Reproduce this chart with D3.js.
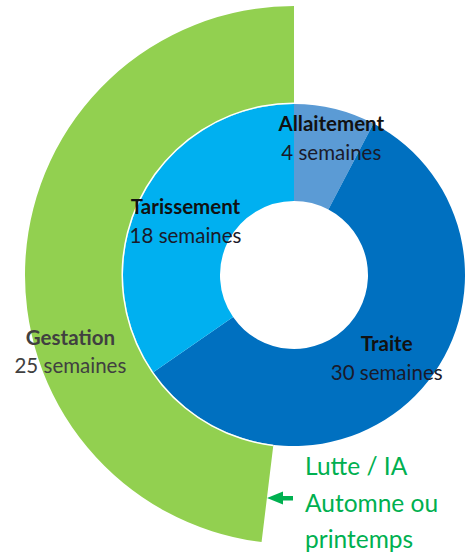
<!DOCTYPE html>
<html>
<head>
<meta charset="utf-8">
<script src="https://cdn.jsdelivr.net/npm/d3@7"></script>
<style>
  body { margin: 0; background: #fff; }
  svg { display: block; font-family: Lato, "Open Sans", sans-serif; }
</style>
</head>
<body>
<svg id="chart" width="465" height="558"></svg>
<script>
// inner ring: the lactation cycle (weeks)
const phases = ['Allaitement', 'Traite', 'Tarissement']
const phaseWeeks = [4, 30, 18]
// outer ring: gestation, counted backwards from the top
const gestationLabel = 'Gestation'
const gestationWeeks = 25
// note next to the end of gestation
const noteLines = ['Lutte / IA', 'Automne ou', 'printemps']

const phaseColors = {
  Allaitement: '#5b9bd5',
  Traite: '#0070c0',
  Tarissement: '#00b0f0'
}

const width = 465
const height = 558
const cx = 294, cy = 275
const rHole = 74, rRing = 171, rOuter = 269

const svg = d3.select('#chart')
const g = svg.append('g').attr('transform', `translate(${cx}, ${cy})`)

const totalWeeks = d3.sum(phaseWeeks)
const angle = d3.scaleLinear().domain([0, totalWeeks]).range([0, 2 * Math.PI])

// outer green arc for gestation
const outerArc = d3.arc()
  .innerRadius(rRing)
  .outerRadius(rOuter)

const gestation = {startAngle: -angle(gestationWeeks), endAngle: 0}

g.append('path')
  .attr('d', outerArc(gestation))
  .attr('fill', '#92d050')

// donut for the cycle
const pie = d3.pie().value(d => d.weeks).sort(null)
const ringData = pie(phases.map((p, i) => ({name: p, weeks: phaseWeeks[i]})))

const ringArc = d3.arc()
  .innerRadius(rHole)
  .outerRadius(rRing)

g.selectAll('path.slice')
  .data(ringData)
  .enter().append('path')
  .attr('class', 'slice')
  .attr('d', ringArc)
  .attr('fill', d => phaseColors[d.data.name])

// thin white rim between the ring and gestation
g.append('path')
  .attr('d', d3.arc().innerRadius(rRing).outerRadius(rRing + 1.5)(gestation))
  .attr('fill', '#fff')

// hand placed label nudges (relative to the centroid)
const nudge = {
  Allaitement: [8, -25],
  Traite: [1, -5],
  Tarissement: [0, -4],
  Gestation: [-4, 83]
}

function addLabel(name, weeks, centroid, fillBold, fillText) {
  const [dx, dy] = nudge[name]
  const t = g.append('text')
    .attr('text-anchor', 'middle')
    .attr('transform', `translate(${centroid[0] + dx}, ${centroid[1] + dy})`)
  t.append('tspan')
    .attr('x', 0)
    .attr('y', 0)
    .attr('font-weight', 'bold')
    .attr('font-size', 20.5)
    .attr('fill', fillBold)
    .text(name)
  t.append('tspan')
    .attr('x', 0)
    .attr('y', 28.5)
    .attr('font-size', 20.5)
    .attr('fill', fillText)
    .text(`${weeks} semaines`)
}

ringData.forEach(d => {
  addLabel(d.data.name, d.data.weeks, ringArc.centroid(d), '#111', '#1a1a2a')
})
addLabel(gestationLabel, gestationWeeks, outerArc.centroid(gestation), '#404040', '#404040')

// note with arrow pointing to the end of gestation
const noteX = 305
svg.append('g')
  .selectAll('text')
  .data(noteLines)
  .enter().append('text')
  .attr('x', noteX)
  .attr('y', (d, i) => 475 + i * 36.5)
  .attr('font-size', 24.5)
  .attr('fill', '#00b050')
  .text(d => d)

svg.append('path')
  .attr('d', 'M293,496 L283,496 L283,491.5 L267,498 L283,504.5 L283,500.5 L293,500.5 Z')
  .attr('fill', '#00b050')
</script>
</body>
</html>
